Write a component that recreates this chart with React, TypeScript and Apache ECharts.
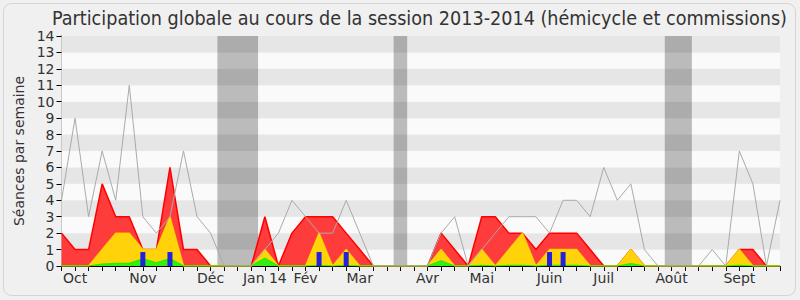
import React, { useEffect, useRef } from "react";
import * as echarts from "echarts";

const weeks: number[] = Array.from({ length: 54 }, (_, i) => i);

const monthLabels: Record<number, string> = {
  1: "Oct", 6: "Nov", 11: "Déc", 15: "Jan 14", 18: "Fév", 22: "Mar",
  27: "Avr", 31: "Mai", 36: "Juin", 40: "Juil", 45: "Août", 50: "Sept",
};

const presence: number[] = [
  2, 1, 1, 5, 3, 3, 1, 1, 6, 1, 1, 0, 0, 0, 0, 3, 0, 2, 3, 3, 3, 2, 1, 0, 0, 0, 0,
  0, 2, 1, 0, 3, 3, 2, 2, 1, 2, 2, 2, 1, 0, 0, 1, 0, 0, 0, 0, 0, 0, 0, 1, 1, 0, 0,
];
const commission: number[] = [
  0, 0, 0, 1, 2, 2, 1, 1, 3, 0, 0, 0, 0, 0, 0, 1, 0, 0, 0, 2, 0, 1, 0, 0, 0, 0, 0,
  0, 1, 0, 0, 1, 0, 1, 2, 0, 1, 1, 1, 0, 0, 0, 1, 0, 0, 0, 0, 0, 0, 0, 1, 0, 0, 0,
];
const hemicycle: number[] = [
  0, 0, 0, 0.12, 0.16, 0.16, 0.43, 0.2, 0.45, 0, 0, 0, 0, 0, 0, 0.47, 0, 0, 0, 0.03, 0, 0.03, 0, 0, 0, 0, 0,
  0, 0.32, 0, 0, 0.04, 0, 0.04, 0.04, 0, 0.04, 0.04, 0.04, 0, 0, 0, 0.14, 0, 0, 0, 0, 0, 0, 0, 0.04, 0, 0, 0,
];
const questionWeeks: number[] = [6, 8, 19, 21, 36, 37];
const questionValues: number[] = [0.85, 0.85, 0.85, 0.85, 0.85, 0.85];
const median: number[] = [
  4, 9, 3, 7, 4, 11, 3, 2, 3, 7, 3, 2, 0, 0, 0, 1, 2, 4, 3, 2, 2, 4, 2, 0, 0, 0, 0,
  0, 2, 3, 0, 1, 2, 3, 3, 3, 2, 4, 4, 3, 6, 4, 5, 1, 0, 0, 0, 0, 1, 0, 7, 5, 0, 4,
];
const vacations: [number, number][] = [
  [11.5, 14.5],
  [24.5, 25.5],
  [44.5, 46.5],
];

const FONT = "DejaVu Sans";

export default function App() {
  const ref = useRef<HTMLDivElement>(null);
  useEffect(() => {
    if (!ref.current) return;
    const chart = echarts.init(ref.current, undefined, { renderer: "svg" });
    const pair = (arr: number[]) => weeks.map((w) => [w, arr[w]]);
    chart.setOption({
      animation: false,
      backgroundColor: "#f0f0f0",
      textStyle: { fontFamily: FONT },
      title: {
        text: "Participation globale au cours de la session 2013-2014 (hémicycle et commissions)",
        left: 47,
        top: 3,
        textStyle: {
          fontFamily: "DejaVu Sans Condensed",
          fontSize: 19.6,
          fontWeight: "normal",
          color: "#333",
        },
      },
      graphic: [
        {
          type: "rect",
          shape: { x: 3.5, y: 3.5, width: 792, height: 292, r: 8 },
          style: { fill: "none", stroke: "#d4d4d4", lineWidth: 1 },
          silent: true,
        },
      ],
      grid: { left: 61.5, right: 20, top: 36, bottom: 34 },
      xAxis: [
        {
          type: "value",
          min: 0,
          max: 53,
          interval: 1,
          axisLine: { show: true, lineStyle: { color: "#000", width: 1 } },
          axisTick: { show: true, length: 5, lineStyle: { color: "#000" } },
          splitLine: { show: false },
          axisLabel: {
            fontFamily: FONT,
            fontSize: 14,
            color: "#333",
            margin: 5,
            formatter: (v: number) => monthLabels[v] ?? "",
          },
        },
        {
          type: "value",
          position: "top",
          min: 0,
          max: 53,
          interval: 1,
          axisLine: { show: false },
          axisTick: { show: true, inside: true, length: 2, lineStyle: { color: "#222" } },
          splitLine: { show: false },
          axisLabel: { show: false },
        },
      ],
      yAxis: [
        {
          type: "value",
          min: 0,
          max: 14,
          interval: 1,
          name: "Séances par semaine",
          nameLocation: "middle",
          nameGap: 36,
          nameTextStyle: { fontFamily: FONT, fontSize: 14, color: "#333" },
          axisLine: { show: true, lineStyle: { color: "#000" } },
          axisTick: { show: true, length: 5, lineStyle: { color: "#000" } },
          axisLabel: { fontFamily: FONT, fontSize: 14, color: "#333", margin: 7 },
          splitLine: { show: false },
          splitArea: { show: true, areaStyle: { color: ["#fafafa", "#e6e6e6"] } },
        },
        {
          type: "value",
          position: "right",
          min: 0,
          max: 14,
          interval: 1,
          axisLine: { show: true, lineStyle: { color: "#c8c8c8" } },
          axisTick: { show: false },
          axisLabel: { show: false },
          splitLine: { show: false },
        },
      ],
      series: [
        {
          name: "Présences",
          type: "line",
          data: pair(presence),
          symbol: "none",
          lineStyle: { color: "#ff0000", width: 1.5 },
          areaStyle: { color: "#ff3c3c", opacity: 1 },
          z: 2,
          markArea: {
            silent: true,
            itemStyle: { color: "rgba(0,0,0,0.25)" },
            data: vacations.map(([a, b]) => [{ xAxis: a }, { xAxis: b }]),
          },
        },
        {
          name: "Commissions",
          type: "line",
          data: pair(commission),
          symbol: "none",
          lineStyle: { color: "rgba(255,230,0,0.75)", width: 1.5 },
          areaStyle: { color: "#ffd20a", opacity: 1 },
          z: 3,
        },
        {
          name: "Hémicycle",
          type: "line",
          data: pair(hemicycle),
          symbol: "none",
          lineStyle: { color: "#22ee00", width: 1.2 },
          areaStyle: { color: "#33ee11", opacity: 1 },
          z: 4,
        },
        {
          name: "Questions",
          type: "bar",
          data: questionWeeks.map((w, k) => [w, questionValues[k]]),
          barWidth: 5,
          itemStyle: { color: "#2222dd" },
          z: 5,
        },
        {
          name: "Médiane",
          type: "line",
          data: pair(median),
          symbol: "none",
          lineStyle: { color: "#aaaaaa", width: 1 },
          z: 6,
        },
      ],
    });
    return () => chart.dispose();
  }, []);
  return (
    <div
      ref={ref}
      style={{ position: "fixed", left: 0, top: 0, width: 800, height: 300 }}
    />
  );
}
